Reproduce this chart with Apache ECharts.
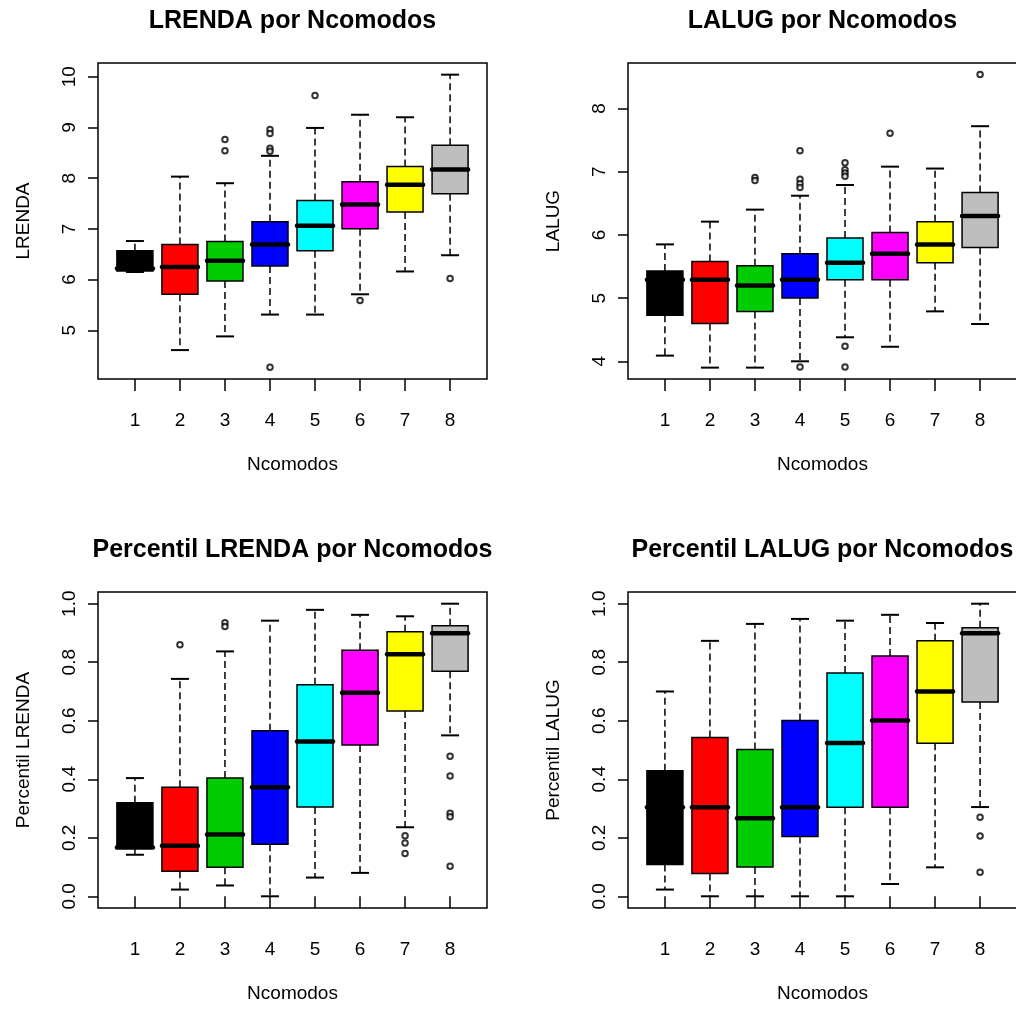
<!DOCTYPE html>
<html><head><meta charset="utf-8">
<script src="https://cdn.jsdelivr.net/npm/echarts@6/dist/echarts.min.js"></script>
<style>html,body{margin:0;padding:0;background:#fff}#c{width:1016px;height:1009px}</style>
</head><body><div id="c"></div>
<script>
// ---- data ----
const categories = [1, 2, 3, 4, 5, 6, 7, 8];
const boxColors = ['#000000', '#FF0000', '#00CD00', '#0000FF', '#00FFFF', '#FF00FF', '#FFFF00', '#BEBEBE'];
const panelTitles = ['LRENDA por Ncomodos', 'LALUG por Ncomodos', 'Percentil LRENDA por Ncomodos', 'Percentil LALUG por Ncomodos'];
const yNames = ['LRENDA', 'LALUG', 'Percentil LRENDA', 'Percentil LALUG'];
const xName = 'Ncomodos';
const yTicksLrenda = [5, 6, 7, 8, 9, 10];
const yTicksLalug = [4, 5, 6, 7, 8];
const yTicksPct = [0, 0.2, 0.4, 0.6, 0.8, 1.0];

// [lower whisker, Q1, median, Q3, upper whisker]
const lrendaStats = [
  [6.15, 6.17, 6.22, 6.57, 6.76],
  [4.61, 5.71, 6.25, 6.69, 8.03],
  [4.88, 5.97, 6.37, 6.75, 7.90],
  [5.31, 6.27, 6.69, 7.14, 8.44],
  [5.31, 6.57, 7.06, 7.56, 8.99],
  [5.71, 7.00, 7.48, 7.93, 9.25],
  [6.16, 7.33, 7.87, 8.23, 9.20],
  [6.48, 7.69, 8.17, 8.65, 10.04]
];
const lrendaOutliers = [[3, 8.76], [3, 8.54], [4, 8.96], [4, 8.88], [4, 8.59], [4, 8.53], [4, 4.27], [5, 9.63], [6, 5.59], [8, 6.02]];

const lalugStats = [
  [4.09, 4.73, 5.29, 5.43, 5.85],
  [3.90, 4.60, 5.29, 5.58, 6.21],
  [3.90, 4.79, 5.20, 5.51, 6.40],
  [4.00, 5.00, 5.29, 5.70, 6.62],
  [4.38, 5.29, 5.56, 5.95, 6.79],
  [4.23, 5.29, 5.70, 6.04, 7.08],
  [4.79, 5.56, 5.85, 6.21, 7.05],
  [4.59, 5.80, 6.30, 6.67, 7.72]
];
const lalugOutliers = [[3, 6.91], [3, 6.86], [4, 7.33], [4, 6.88], [4, 6.81], [4, 6.75], [4, 3.91], [5, 7.14], [5, 7.03], [5, 6.98], [5, 6.93], [5, 4.24], [5, 3.91], [6, 7.61], [8, 8.54]];

const pctLrendaStats = [
  [0.142, 0.165, 0.167, 0.320, 0.404],
  [0.023, 0.086, 0.173, 0.373, 0.743],
  [0.037, 0.099, 0.211, 0.404, 0.837],
  [0.000, 0.178, 0.373, 0.566, 0.942],
  [0.064, 0.305, 0.529, 0.723, 0.979],
  [0.080, 0.517, 0.696, 0.841, 0.962],
  [0.236, 0.633, 0.827, 0.904, 0.957],
  [0.550, 0.769, 0.899, 0.925, 1.000]
];
const pctLrendaOutliers = [[2, 0.860], [3, 0.935], [3, 0.922], [7, 0.207], [7, 0.182], [7, 0.146], [8, 0.479], [8, 0.411], [8, 0.284], [8, 0.272], [8, 0.103]];

const pctLalugStats = [
  [0.023, 0.109, 0.304, 0.429, 0.700],
  [0.000, 0.078, 0.304, 0.543, 0.873],
  [0.000, 0.100, 0.267, 0.502, 0.931],
  [0.000, 0.204, 0.304, 0.601, 0.948],
  [0.000, 0.304, 0.524, 0.763, 0.942],
  [0.042, 0.304, 0.601, 0.821, 0.962],
  [0.099, 0.523, 0.700, 0.873, 0.934],
  [0.305, 0.664, 0.899, 0.918, 1.000]
];
const pctLalugOutliers = [[8, 0.270], [8, 0.206], [8, 0.082]];

// ---- chart ----
const FONT = 'Liberation Sans, Arial, sans-serif';
const panels = [
  { stats: lrendaStats, out: lrendaOutliers, ticks: yTicksLrenda, min: 4.04, max: 10.27, fmt: v => String(v) },
  { stats: lalugStats, out: lalugOutliers, ticks: yTicksLalug, min: 3.72, max: 8.72, fmt: v => String(v) },
  { stats: pctLrendaStats, out: pctLrendaOutliers, ticks: yTicksPct, min: -0.04, max: 1.04, fmt: v => Number(v).toFixed(1) },
  { stats: pctLalugStats, out: pctLalugOutliers, ticks: yTicksPct, min: -0.04, max: 1.04, fmt: v => Number(v).toFixed(1) }
];
const gridPos = [
  { left: 98, top: 63 }, { left: 628, top: 63 },
  { left: 98, top: 592 }, { left: 628, top: 592 }
];
const GW = 389, GH = 316;

function renderBox(params, api) {
  const x = api.value(0);
  const lo = api.coord([x, api.value(1)]);
  const q1 = api.coord([x, api.value(2)]);
  const md = api.coord([x, api.value(3)]);
  const q3 = api.coord([x, api.value(4)]);
  const hi = api.coord([x, api.value(5)]);
  const w = api.size([0.8, 0])[0];
  const cx = md[0];
  const color = boxColors[params.dataIndex];
  return {
    type: 'group',
    children: [
      { type: 'line', shape: { x1: cx, y1: q3[1], x2: cx, y2: hi[1] }, style: { stroke: '#000', lineWidth: 1.5, lineDash: [7, 4] } },
      { type: 'line', shape: { x1: cx, y1: q1[1], x2: cx, y2: lo[1] }, style: { stroke: '#000', lineWidth: 1.5, lineDash: [7, 4] } },
      { type: 'line', shape: { x1: cx - w / 4, y1: hi[1], x2: cx + w / 4, y2: hi[1] }, style: { stroke: '#000', lineWidth: 2 } },
      { type: 'line', shape: { x1: cx - w / 4, y1: lo[1], x2: cx + w / 4, y2: lo[1] }, style: { stroke: '#000', lineWidth: 2 } },
      { type: 'rect', shape: { x: cx - w / 2, y: q3[1], width: w, height: q1[1] - q3[1] }, style: { fill: color, stroke: '#000', lineWidth: 1.5 } },
      { type: 'line', shape: { x1: cx - w / 2, y1: md[1], x2: cx + w / 2, y2: md[1] }, style: { stroke: '#000', lineWidth: 4.5, lineCap: 'round' } }
    ]
  };
}

const grid = [], xAxis = [], yAxis = [], series = [], graphic = [];
panels.forEach((p, i) => {
  grid.push({ left: gridPos[i].left, top: gridPos[i].top, width: GW, height: GH, show: true,
    borderColor: '#000', borderWidth: 1.5, backgroundColor: 'transparent', containLabel: false, outerBoundsMode: 'none' });
  xAxis.push({
    gridIndex: i, type: 'value', min: 0.18, max: 8.82,
    axisLine: { show: false },
    axisTick: { show: true, customValues: categories, length: 12, lineStyle: { color: '#000', width: 1.5 } },
    axisLabel: { customValues: categories, margin: 32, fontSize: 19, color: '#000', fontFamily: FONT },
    splitLine: { show: false },
    name: xName, nameLocation: 'middle', nameGap: 76,
    nameTextStyle: { fontSize: 19, color: '#000', fontFamily: FONT }
  });
  yAxis.push({
    gridIndex: i, type: 'value', min: p.min, max: p.max,
    axisLine: { show: false },
    axisTick: { show: true, customValues: p.ticks, length: 10, lineStyle: { color: '#000', width: 1.5 } },
    axisLabel: { customValues: p.ticks, rotate: 90, margin: 19, fontSize: 19, color: '#000', fontFamily: FONT, formatter: p.fmt },
    splitLine: { show: false },
    name: yNames[i], nameLocation: 'middle', nameGap: 65, nameRotate: 90,
    nameTextStyle: { fontSize: 19, color: '#000', fontFamily: FONT }
  });
  series.push({
    type: 'custom', xAxisIndex: i, yAxisIndex: i, renderItem: renderBox, clip: false,
    encode: { x: 0, y: [1, 2, 3, 4, 5] },
    data: p.stats.map((s, k) => [categories[k]].concat(s))
  });
  series.push({
    type: 'scatter', xAxisIndex: i, yAxisIndex: i, symbol: 'emptyCircle', symbolSize: 5.5,
    itemStyle: { color: '#000', borderColor: '#000', borderWidth: 1.2 },
    data: p.out
  });
  graphic.push({
    type: 'text', x: gridPos[i].left + GW / 2, y: gridPos[i].top - 42,
    style: { text: panelTitles[i], fontSize: 25, fontWeight: 'bold', fontFamily: FONT, fill: '#000', textAlign: 'center', textVerticalAlign: 'middle' }
  });
});

const chart = echarts.init(document.getElementById('c'), null, { renderer: 'canvas' });
chart.setOption({ animation: false, backgroundColor: '#fff', grid, xAxis, yAxis, series, graphic });
</script>
</body></html>
